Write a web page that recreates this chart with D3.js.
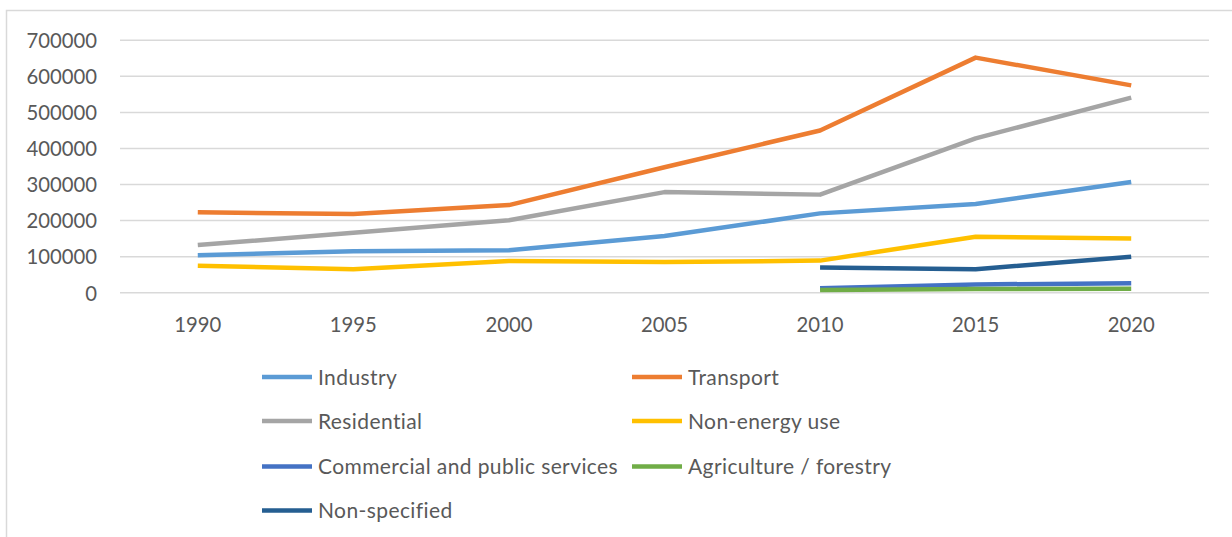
<!DOCTYPE html>
<html>
<head>
<meta charset="utf-8">
<script src="https://cdn.jsdelivr.net/npm/d3@7"></script>
<style>
  html, body { margin: 0; padding: 0; background: #fff; }
  svg { display: block; }
  text { font-family: Lato, "Open Sans", sans-serif; fill: #595959; }
</style>
</head>
<body>
<svg id="chart" width="1232" height="537"></svg>
<script>
// Years on the category axis
const years = ["1990", "1995", "2000", "2005", "2010", "2015", "2020"];

// Final energy consumption by sector (null = no data for that year)
const industry    = [104000, 115000, 118000, 157000, 220000, 246000, 307000];
const transport   = [223000, 218000, 243000, 348000, 450000, 652000, 575000];
const residential = [132000, 166000, 201000, 279000, 272000, 428000, 541000];
const nonEnergy   = [75000, 65000, 88000, 85000, 89000, 155000, 150000];
const commercial  = [null, null, null, null, 12000, 23000, 26000];
const agriculture = [null, null, null, null, 7500, 10000, 11000];
const nonSpecified = [null, null, null, null, 70000, 65000, 100000];

const yTicks = [0, 100000, 200000, 300000, 400000, 500000, 600000, 700000];

const seriesNames  = ["Industry", "Transport", "Residential", "Non-energy use",
                      "Commercial and public services", "Agriculture / forestry", "Non-specified"];
const seriesValues = [industry, transport, residential, nonEnergy, commercial, agriculture, nonSpecified];
const seriesColors = ["#5B9BD5", "#ED7D31", "#A5A5A5", "#FFC000", "#4472C4", "#70AD47", "#255E91"];

const svg = d3.select("#chart");

// outer chart frame
svg.append("rect")
  .attr("x", 6.5).attr("y", 10.5)
  .attr("width", 1240).attr("height", 540)
  .attr("fill", "none").attr("stroke", "#d9d9d9").attr("stroke-width", 1.5);

const plot = { left: 120, right: 1209, top: 40.3, bottom: 292.7 };

const x = d3.scaleBand().domain(years).range([plot.left, plot.right]);
const y = d3.scaleLinear().domain([0, 700000]).range([plot.bottom, plot.top]);

// horizontal gridlines
svg.append("g")
  .selectAll("line")
  .data(yTicks)
  .join("line")
  .attr("x1", plot.left).attr("x2", plot.right)
  .attr("y1", d => y(d)).attr("y2", d => y(d))
  .attr("stroke", "#d9d9d9").attr("stroke-width", 1.5);

// y axis labels
const yAxis = d3.axisLeft(y).tickValues(yTicks).tickSize(0).tickPadding(0)
  .tickFormat(d3.format("d"));
svg.append("g")
  .attr("transform", `translate(97,0)`)
  .call(yAxis)
  .call(g => g.select(".domain").remove())
  .call(g => g.selectAll("text")
    .attr("font-size", 20.3)
    .attr("dy", "0.36em")
    .style("font-family", "Lato, sans-serif")
    .attr("fill", "#595959"));

// x axis labels
const xAxis = d3.axisBottom(x).tickSize(0).tickPadding(0);
svg.append("g")
  .attr("transform", `translate(0,${plot.bottom})`)
  .call(xAxis)
  .call(g => g.select(".domain").remove())
  .call(g => g.selectAll("text")
    .attr("font-size", 20.3)
    .attr("y", 0)
    .attr("dy", 39.5)
    .style("font-family", "Lato, sans-serif")
    .attr("fill", "#595959"));

// series lines
const line = d3.line()
  .defined(d => d.v !== null)
  .x(d => x(d.year) + x.bandwidth() / 2)
  .y(d => y(d.v));

seriesValues.forEach((vals, i) => {
  const pts = years.map((yr, j) => ({ year: yr, v: vals[j] }));
  svg.append("path")
    .datum(pts)
    .attr("d", line)
    .attr("fill", "none")
    .attr("stroke", seriesColors[i])
    .attr("stroke-width", 4.5)
    .attr("stroke-linejoin", "round")
    .attr("stroke-linecap", "butt");
});

// legend, two columns
const legend = svg.append("g");
const colX = [262, 632];
const rowY = [377, 421, 466.5, 510.5];
seriesNames.forEach((name, i) => {
  const cx = colX[i % 2];
  const cy = rowY[Math.floor(i / 2)];
  const g = legend.append("g").attr("transform", `translate(${cx},${cy})`);
  g.append("line")
    .attr("x1", 0).attr("x2", 50).attr("y1", 0).attr("y2", 0)
    .attr("stroke", seriesColors[i]).attr("stroke-width", 4.5);
  g.append("text")
    .attr("x", 56).attr("y", 0).attr("dy", "0.36em")
    .attr("font-size", 21)
    .attr("letter-spacing", 0.4)
    .text(name);
});
</script>
</body>
</html>
